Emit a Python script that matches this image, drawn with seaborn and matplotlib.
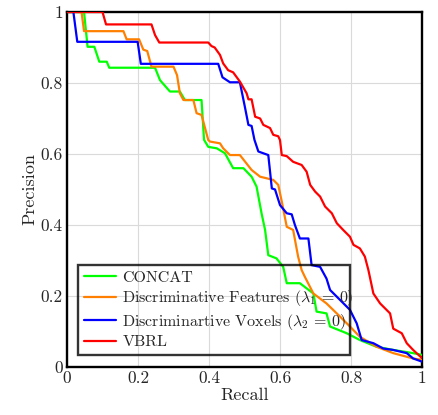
import pandas as pd
import numpy as np
import matplotlib
matplotlib.use("Agg")
import matplotlib.pyplot as plt
import seaborn as sns

# precision / recall points
concat_recall = [0, 0.048, 0.058, 0.077, 0.091, 0.112, 0.119, 0.248, 0.262, 0.29, 0.318, 0.332, 0.379,
                 0.386, 0.398, 0.422, 0.445, 0.468, 0.497, 0.52, 0.534, 0.548, 0.558, 0.567, 0.59,
                 0.609, 0.619, 0.656, 0.694, 0.703, 0.731, 0.741, 0.788, 0.825, 0.872, 0.919, 0.975, 1.0]
concat_prec = [1, 1, 0.902, 0.902, 0.86, 0.86, 0.843, 0.843, 0.808, 0.776, 0.776, 0.752, 0.752,
               0.64, 0.62, 0.616, 0.602, 0.56, 0.56, 0.536, 0.508, 0.433, 0.386, 0.315, 0.306,
               0.282, 0.236, 0.236, 0.207, 0.156, 0.151, 0.114, 0.095, 0.076, 0.057, 0.048, 0.039, 0.034]

feat_recall = [0, 0.041, 0.048, 0.159, 0.168, 0.203, 0.215, 0.226, 0.238, 0.3, 0.31, 0.318, 0.328, 0.356,
               0.365, 0.379, 0.398, 0.403, 0.431, 0.44, 0.459, 0.487, 0.52, 0.544, 0.581, 0.595, 0.605,
               0.619, 0.637, 0.651, 0.661, 0.67, 0.694, 0.731, 0.769, 0.797, 0.825, 0.872, 0.919, 0.975, 1.0]
feat_prec = [1, 1, 0.946, 0.946, 0.923, 0.923, 0.894, 0.89, 0.846, 0.846, 0.822, 0.771, 0.752, 0.752,
             0.715, 0.71, 0.639, 0.635, 0.63, 0.616, 0.597, 0.597, 0.555, 0.536, 0.527, 0.513, 0.466,
             0.395, 0.386, 0.311, 0.273, 0.254, 0.207, 0.179, 0.142, 0.114, 0.085, 0.057, 0.039, 0.024, 0.02]

vox_recall = [0, 0.018, 0.029, 0.199, 0.208, 0.426, 0.438, 0.459, 0.487, 0.501, 0.511, 0.52, 0.528,
              0.539, 0.567, 0.577, 0.586, 0.6, 0.619, 0.633, 0.642, 0.656, 0.68, 0.689, 0.713, 0.731,
              0.741, 0.769, 0.797, 0.816, 0.83, 0.863, 0.891, 0.919, 0.957, 0.975, 1.0]
vox_prec = [1, 1, 0.916, 0.916, 0.854, 0.854, 0.816, 0.802, 0.802, 0.733, 0.682, 0.679, 0.64,
            0.607, 0.597, 0.503, 0.5, 0.456, 0.433, 0.43, 0.4, 0.362, 0.362, 0.287, 0.282, 0.249,
            0.217, 0.189, 0.161, 0.123, 0.076, 0.067, 0.052, 0.048, 0.039, 0.024, 0.015]

vbrl_recall = [0, 0.1, 0.11, 0.238, 0.248, 0.26, 0.398, 0.407, 0.416, 0.431, 0.44, 0.454, 0.468, 0.487,
               0.506, 0.511, 0.52, 0.53, 0.544, 0.553, 0.572, 0.581, 0.595, 0.6, 0.605, 0.619, 0.637,
               0.661, 0.675, 0.685, 0.699, 0.713, 0.727, 0.746, 0.76, 0.778, 0.797, 0.807, 0.825,
               0.839, 0.849, 0.863, 0.882, 0.91, 0.919, 0.943, 0.957, 0.975, 1.0]
vbrl_prec = [1, 1, 0.965, 0.965, 0.935, 0.914, 0.914, 0.904, 0.9, 0.879, 0.855, 0.836, 0.83, 0.804,
             0.771, 0.754, 0.754, 0.705, 0.7, 0.682, 0.673, 0.654, 0.65, 0.639, 0.597, 0.594, 0.578,
             0.569, 0.55, 0.513, 0.494, 0.48, 0.452, 0.433, 0.405, 0.386, 0.367, 0.344, 0.334,
             0.311, 0.273, 0.207, 0.179, 0.151, 0.108, 0.095, 0.067, 0.048, 0.025]

names = ["CONCAT",
         r"Discriminative Features ($\lambda_1\,=\,0$)",
         r"Discriminartive Voxels ($\lambda_2\,=\,0$)",
         "VBRL"]
colors = ["#00ff00", "#ff8000", "#0000ff", "#ff0000"]

frames = []
for n, r, p in zip(names, [concat_recall, feat_recall, vox_recall, vbrl_recall],
                   [concat_prec, feat_prec, vox_prec, vbrl_prec]):
    frames.append(pd.DataFrame({"Recall": r, "Precision": p, "method": n}))
df = pd.concat(frames, ignore_index=True)

sns.set_style("white")
plt.rcParams["font.family"] = ["cmr10", "DejaVu Serif"]
plt.rcParams["mathtext.fontset"] = "cm"
plt.rcParams["axes.formatter.use_mathtext"] = True

fig = plt.figure(figsize=(4.39, 4.15), dpi=100)
ax = fig.add_axes([0.1526, 0.1157, 0.8087, 0.8554])

sns.lineplot(data=df, x="Recall", y="Precision", hue="method", palette=colors,
             estimator=None, sort=False, lw=1.6, ax=ax, zorder=3)

ax.set_xlim(0, 1)
ax.set_ylim(0, 1)
ticks = [0, 0.2, 0.4, 0.6, 0.8, 1]
ax.set_xticks(ticks)
ax.set_yticks(ticks)
ax.set_xticklabels(["0", "0.2", "0.4", "0.6", "0.8", "1"])
ax.set_yticklabels(["0", "0.2", "0.4", "0.6", "0.8", "1"])
ax.grid(True, color="#dadada", lw=0.8, zorder=0)
ax.tick_params(direction="in", length=4, color="#909090", labelsize=12.5, pad=3)
for s in ax.spines.values():
    s.set_linewidth(1.7)
    s.set_color("black")
ax.set_xlabel("Recall", fontsize=13, labelpad=1)
ax.set_ylabel("Precision", fontsize=13, labelpad=2)

leg = ax.legend(loc="lower left", bbox_to_anchor=(0.032, 0.034, 0.765, 0.248), mode="expand",
                frameon=True, fancybox=False, fontsize=11.5, handlelength=2.0,
                borderaxespad=0, labelspacing=0.22, handletextpad=0.4, borderpad=0.35)
leg.get_frame().set_edgecolor("black")
leg.get_frame().set_linewidth(1.7)
leg.get_frame().set_facecolor("none")

fig.savefig("out.png", dpi=100)
